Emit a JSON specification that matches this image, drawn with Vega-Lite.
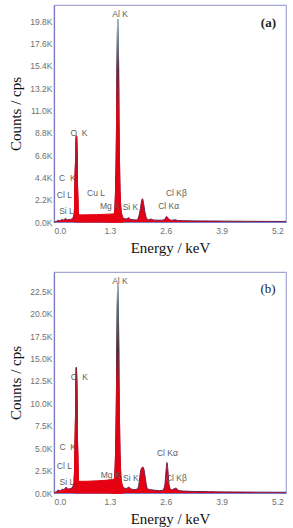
{
  "$schema": "https://vega.github.io/schema/vega-lite/v6.json",
  "background": "white",
  "padding": {"left": 8, "top": 4, "right": 4, "bottom": 2},
  "bounds": "flush",
  "spacing": 50,
  "config": {
    "view": {"stroke": "#a3a7d2", "strokeWidth": 1.2},
    "axis": {
      "grid": false,
      "domainColor": "#7d7bc2",
      "domainWidth": 1.2,
      "ticks": false,
      "labelOverlap": false,
      "labelColor": "#707070",
      "labelFont": "Liberation Sans",
      "labelFontSize": 8.5,
      "titleFont": "Liberation Serif",
      "titleFontSize": 15,
      "titleFontWeight": "normal",
      "titleColor": "#111111"
    },
    "axisX": {"labelPadding": 4, "titlePadding": 6},
    "axisY": {"labelPadding": 2, "titlePadding": 6}
  },
  "datasets": {
    "spectrumA": [
      {"e": 0.00, "c": 0}, {"e": 0.05, "c": 50}, {"e": 0.10, "c": 180}, {"e": 0.14, "c": 120},
      {"e": 0.18, "c": 250}, {"e": 0.22, "c": 200}, {"e": 0.27, "c": 350}, {"e": 0.31, "c": 220},
      {"e": 0.36, "c": 250}, {"e": 0.42, "c": 300},
      {"e": 0.475, "c": 1000, "pk": "O K"}, {"e": 0.50, "c": 5800, "pk": "O K"}, {"e": 0.515, "c": 8300, "pk": "O K"},
      {"e": 0.525, "c": 8500, "pk": "O K"}, {"e": 0.535, "c": 7200, "pk": "O K"}, {"e": 0.55, "c": 3000, "pk": "O K"},
      {"e": 0.57, "c": 700, "pk": "O K"},
      {"e": 0.62, "c": 250}, {"e": 0.75, "c": 220}, {"e": 0.85, "c": 240}, {"e": 0.93, "c": 380},
      {"e": 1.00, "c": 260}, {"e": 1.10, "c": 300}, {"e": 1.18, "c": 420}, {"e": 1.25, "c": 550},
      {"e": 1.31, "c": 450}, {"e": 1.36, "c": 550},
      {"e": 1.40, "c": 800, "pk": "Al K"}, {"e": 1.43, "c": 2800, "pk": "Al K"}, {"e": 1.455, "c": 9500, "pk": "Al K"},
      {"e": 1.47, "c": 17000, "pk": "Al K"}, {"e": 1.485, "c": 20000, "pk": "Al K"}, {"e": 1.50, "c": 17000, "pk": "Al K"},
      {"e": 1.515, "c": 9500, "pk": "Al K"}, {"e": 1.54, "c": 2800, "pk": "Al K"}, {"e": 1.57, "c": 900, "pk": "Al K"},
      {"e": 1.61, "c": 400, "pk": "Al K"},
      {"e": 1.68, "c": 300}, {"e": 1.74, "c": 420}, {"e": 1.79, "c": 250}, {"e": 1.85, "c": 220},
      {"e": 1.92, "c": 200}, {"e": 1.97, "c": 500}, {"e": 2.01, "c": 1300}, {"e": 2.04, "c": 2100},
      {"e": 2.06, "c": 2300}, {"e": 2.09, "c": 1700}, {"e": 2.12, "c": 900}, {"e": 2.16, "c": 350},
      {"e": 2.20, "c": 220}, {"e": 2.26, "c": 300}, {"e": 2.31, "c": 200}, {"e": 2.40, "c": 180},
      {"e": 2.50, "c": 170}, {"e": 2.57, "c": 250}, {"e": 2.62, "c": 550}, {"e": 2.67, "c": 300},
      {"e": 2.74, "c": 170}, {"e": 2.82, "c": 220}, {"e": 2.88, "c": 150}, {"e": 3.00, "c": 130},
      {"e": 3.30, "c": 110}, {"e": 3.60, "c": 100}, {"e": 4.00, "c": 85}, {"e": 4.50, "c": 70},
      {"e": 5.00, "c": 60}, {"e": 5.40, "c": 55}
    ],
    "labelsA": [
      {"label": "Al K", "e": 1.54, "c": 20500},
      {"label": "O\u00a0\u00a0K", "e": 0.58, "c": 8780},
      {"label": "C\u00a0\u00a0K", "e": 0.31, "c": 4340},
      {"label": "Cl L", "e": 0.24, "c": 2660},
      {"label": "Si L", "e": 0.29, "c": 1080},
      {"label": "Cu L", "e": 0.98, "c": 2860},
      {"label": "Mg K", "e": 1.30, "c": 1580},
      {"label": "Si K", "e": 1.78, "c": 1480},
      {"label": "Cl Kβ", "e": 2.85, "c": 2860},
      {"label": "Cl Kα", "e": 2.67, "c": 1580}
    ],
    "spectrumB": [
      {"e": 0.00, "c": 0}, {"e": 0.05, "c": 150}, {"e": 0.10, "c": 320}, {"e": 0.15, "c": 250},
      {"e": 0.19, "c": 420}, {"e": 0.23, "c": 380}, {"e": 0.28, "c": 650}, {"e": 0.33, "c": 450},
      {"e": 0.41, "c": 550},
      {"e": 0.47, "c": 1300, "pk": "O K"}, {"e": 0.495, "c": 6500, "pk": "O K"}, {"e": 0.51, "c": 12300, "pk": "O K"},
      {"e": 0.52, "c": 14000, "pk": "O K"}, {"e": 0.53, "c": 12300, "pk": "O K"}, {"e": 0.545, "c": 6500, "pk": "O K"},
      {"e": 0.57, "c": 1300, "pk": "O K"},
      {"e": 0.64, "c": 450}, {"e": 0.78, "c": 500}, {"e": 0.88, "c": 560}, {"e": 0.95, "c": 600},
      {"e": 1.03, "c": 640}, {"e": 1.12, "c": 720}, {"e": 1.19, "c": 850}, {"e": 1.25, "c": 1000},
      {"e": 1.30, "c": 850}, {"e": 1.36, "c": 1000},
      {"e": 1.40, "c": 1500, "pk": "Al K"}, {"e": 1.43, "c": 4000, "pk": "Al K"}, {"e": 1.455, "c": 12000, "pk": "Al K"},
      {"e": 1.47, "c": 20000, "pk": "Al K"}, {"e": 1.485, "c": 23300, "pk": "Al K"}, {"e": 1.50, "c": 20000, "pk": "Al K"},
      {"e": 1.515, "c": 12000, "pk": "Al K"}, {"e": 1.54, "c": 4000, "pk": "Al K"}, {"e": 1.57, "c": 1300, "pk": "Al K"},
      {"e": 1.61, "c": 650, "pk": "Al K"},
      {"e": 1.68, "c": 500}, {"e": 1.74, "c": 650}, {"e": 1.80, "c": 450}, {"e": 1.87, "c": 380},
      {"e": 1.94, "c": 450}, {"e": 1.98, "c": 1100}, {"e": 2.01, "c": 2300}, {"e": 2.04, "c": 2800},
      {"e": 2.07, "c": 2900}, {"e": 2.10, "c": 2500}, {"e": 2.13, "c": 1500}, {"e": 2.17, "c": 550},
      {"e": 2.22, "c": 380}, {"e": 2.28, "c": 350}, {"e": 2.35, "c": 300}, {"e": 2.45, "c": 260},
      {"e": 2.53, "c": 300}, {"e": 2.58, "c": 900}, {"e": 2.61, "c": 2600}, {"e": 2.63, "c": 3400},
      {"e": 2.65, "c": 2600}, {"e": 2.68, "c": 900}, {"e": 2.73, "c": 350}, {"e": 2.80, "c": 480},
      {"e": 2.84, "c": 550}, {"e": 2.89, "c": 300}, {"e": 3.00, "c": 220}, {"e": 3.30, "c": 170},
      {"e": 3.60, "c": 150}, {"e": 4.00, "c": 120}, {"e": 4.50, "c": 100}, {"e": 5.00, "c": 90},
      {"e": 5.40, "c": 80}
    ],
    "labelsB": [
      {"label": "Al K", "e": 1.536, "c": 23660},
      {"label": "O\u00a0\u00a0K", "e": 0.59, "c": 12940},
      {"label": "C\u00a0\u00a0K", "e": 0.32, "c": 5130},
      {"label": "Cl L", "e": 0.24, "c": 3010},
      {"label": "Si L", "e": 0.30, "c": 1230},
      {"label": "Mg K", "e": 1.32, "c": 2000},
      {"label": "Si K", "e": 1.79, "c": 1670},
      {"label": "Cl Kα", "e": 2.64, "c": 4460},
      {"label": "Cl Kβ", "e": 2.85, "c": 1670}
    ]
  },
  "vconcat": [
    {
      "width": 232,
      "height": 217,
      "encoding": {
        "x": {"field": "e", "type": "quantitative", "title": "Energy / keV",
              "scale": {"domain": [0, 5.4], "nice": false},
              "axis": {"values": [0, 1.3, 2.6, 3.9, 5.2], "format": ".1f"}},
        "y": {"field": "c", "type": "quantitative", "title": "Counts / cps",
              "scale": {"domain": [0, 21400], "nice": false},
              "axis": {"values": [0, 2200, 4400, 6600, 8800, 11000, 13200, 15400, 17600, 19800],
                       "labelExpr": "format(datum.value / 1000, '.1f') + 'K'", "labelOverlap": false}}
      },
      "layer": [
        {
          "data": {"name": "spectrumA"},
          "mark": {"type": "area", "color": "#e60012", "interpolate": "monotone"}
        },
        {
          "data": {"name": "spectrumA"},
          "mark": {"type": "line", "color": "#6a2050", "strokeWidth": 1, "interpolate": "monotone"}
        },
        {
          "data": {"name": "spectrumA"},
          "transform": [{"filter": "datum.pk != null"}],
          "mark": {
            "type": "area", "interpolate": "monotone", "strokeWidth": 1,
            "fill": {"gradient": "linear", "x1": 0, "y1": 1, "x2": 0, "y2": 0,
                     "stops": [{"offset": 0, "color": "#e60012"}, {"offset": 0.55, "color": "#e00016"},
                               {"offset": 0.75, "color": "#5a2d45"}, {"offset": 0.9, "color": "#5a9a98"},
                               {"offset": 1, "color": "#86dcd4"}]},
            "stroke": {"gradient": "linear", "x1": 0, "y1": 1, "x2": 0, "y2": 0,
                       "stops": [{"offset": 0, "color": "#e60012"}, {"offset": 0.55, "color": "#c8101e"},
                                 {"offset": 0.75, "color": "#5a2d45"}, {"offset": 0.9, "color": "#5a9a98"},
                                 {"offset": 1, "color": "#86dcd4"}]}
          },
          "encoding": {"detail": {"field": "pk"}}
        },
        {
          "data": {"name": "labelsA"},
          "mark": {"type": "text", "font": "Liberation Sans", "fontSize": 8.5, "color": "#5e5e5e",
                   "align": "center", "baseline": "middle"},
          "encoding": {"text": {"field": "label"}}
        },
        {
          "data": {"values": [{"tag": "(a)", "e": 4.99, "c": 19600}]},
          "mark": {"type": "text", "font": "Liberation Serif", "fontSize": 13, "fontWeight": "bold",
                   "color": "#222222", "align": "center", "baseline": "middle"},
          "encoding": {"text": {"field": "tag"}}
        }
      ]
    },
    {
      "width": 232,
      "height": 221,
      "encoding": {
        "x": {"field": "e", "type": "quantitative", "title": "Energy / keV",
              "scale": {"domain": [0, 5.4], "nice": false},
              "axis": {"values": [0, 1.3, 2.6, 3.9, 5.2], "format": ".1f"}},
        "y": {"field": "c", "type": "quantitative", "title": "Counts / cps",
              "scale": {"domain": [0, 24660], "nice": false},
              "axis": {"values": [0, 2500, 5000, 7500, 10000, 12500, 15000, 17500, 20000, 22500],
                       "labelExpr": "format(datum.value / 1000, '.1f') + 'K'", "labelOverlap": false}}
      },
      "layer": [
        {
          "data": {"name": "spectrumB"},
          "mark": {"type": "area", "color": "#e60012", "interpolate": "monotone"}
        },
        {
          "data": {"name": "spectrumB"},
          "mark": {"type": "line", "color": "#6a2050", "strokeWidth": 1, "interpolate": "monotone"}
        },
        {
          "data": {"name": "spectrumB"},
          "transform": [{"filter": "datum.pk != null"}],
          "mark": {
            "type": "area", "interpolate": "monotone", "strokeWidth": 1,
            "fill": {"gradient": "linear", "x1": 0, "y1": 1, "x2": 0, "y2": 0,
                     "stops": [{"offset": 0, "color": "#e60012"}, {"offset": 0.5, "color": "#e00016"},
                               {"offset": 0.68, "color": "#4a3038"}, {"offset": 0.9, "color": "#4f7f7c"},
                               {"offset": 1, "color": "#86dcd4"}]},
            "stroke": {"gradient": "linear", "x1": 0, "y1": 1, "x2": 0, "y2": 0,
                       "stops": [{"offset": 0, "color": "#e60012"}, {"offset": 0.5, "color": "#c8101e"},
                                 {"offset": 0.68, "color": "#4a3038"}, {"offset": 0.9, "color": "#4f7f7c"},
                                 {"offset": 1, "color": "#86dcd4"}]}
          },
          "encoding": {"detail": {"field": "pk"}}
        },
        {
          "data": {"name": "labelsB"},
          "mark": {"type": "text", "font": "Liberation Sans", "fontSize": 8.5, "color": "#5e5e5e",
                   "align": "center", "baseline": "middle"},
          "encoding": {"text": {"field": "label"}}
        },
        {
          "data": {"values": [{"tag": "(b)", "e": 4.98, "c": 22760}]},
          "mark": {"type": "text", "font": "Liberation Serif", "fontSize": 13,
                   "color": "#222222", "align": "center", "baseline": "middle"},
          "encoding": {"text": {"field": "tag"}}
        }
      ]
    }
  ]
}
